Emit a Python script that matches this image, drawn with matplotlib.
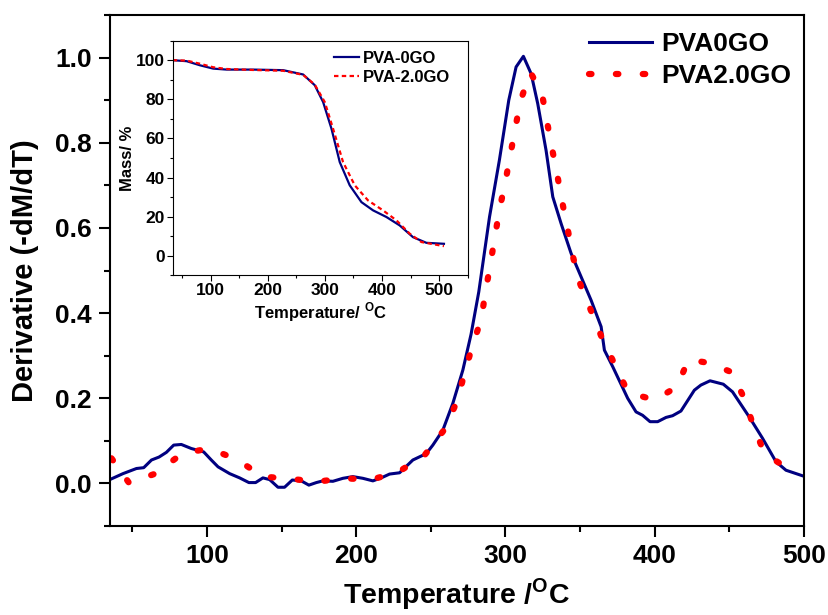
import matplotlib
matplotlib.use('Agg')
import matplotlib.pyplot as plt
from matplotlib.ticker import MultipleLocator

plt.rcParams['font.family'] = ['Liberation Sans', 'DejaVu Sans']
plt.rcParams['font.weight'] = 'bold'
plt.rcParams['axes.labelweight'] = 'bold'
plt.rcParams['mathtext.fontset'] = 'custom'
plt.rcParams['mathtext.rm'] = 'Liberation Sans:bold'
plt.rcParams['mathtext.bf'] = 'Liberation Sans:bold'

# DTG curves (main plot)
temp_0go = [35.5, 43.7, 52.7, 57.6, 62.8, 67.9, 72.8, 77.7, 82.8, 89.5, 97.8, 102.9, 107.4,
            115.2, 121.9, 128.1, 132.6, 137.5, 142, 147.6, 152, 157.2, 163.2, 168.3, 173.3,
            177.7, 184.4, 191.1, 197.8, 204.5, 211.2, 216.8, 222.4, 229.1, 238, 247, 251.4,
            258.1, 264.8, 271.5, 277, 282.2, 289.4, 296, 302.3, 307.2, 312.1, 317.3, 321.7,
            327.3, 331.8, 337.4, 344.1, 350.8, 357.5, 364.2, 366.4, 372, 382, 387.6, 392, 397,
            402.1, 407.7, 412.1, 417.7, 426.7, 431.1, 437.2, 446.1, 452.3, 463.5, 472.4, 481.4,
            488.1, 500]
dtg_0go = [0.010, 0.023, 0.035, 0.037, 0.055, 0.062, 0.073, 0.090, 0.0915, 0.082, 0.074, 0.055,
           0.039, 0.023, 0.013, 0.002, 0.002, 0.013, 0.009, -0.009, -0.009, 0.008, 0.006, -0.004,
           0.002, 0.006, 0.005, 0.012, 0.016, 0.012, 0.006, 0.013, 0.022, 0.025, 0.055, 0.070,
           0.090, 0.125, 0.188, 0.266, 0.35, 0.450, 0.626, 0.759, 0.900, 0.978, 1.003, 0.962,
           0.892, 0.782, 0.673, 0.610, 0.540, 0.485, 0.430, 0.368, 0.313, 0.274, 0.200, 0.168,
           0.160, 0.145, 0.145, 0.155, 0.159, 0.170, 0.219, 0.231, 0.241, 0.233, 0.215, 0.156,
           0.106, 0.051, 0.031, 0.017]

temp_2go = [36, 47.8, 65.4, 83.3, 101.4, 119.7, 137.5, 155.4, 173.7, 191.8, 210.1, 227.9, 245.8,
            259.7, 267.7, 272.6, 277.8, 283.8, 286.7, 289.8, 292.9, 296, 299.9, 303.2, 306.6,
            310.1, 316.8, 324.4, 327.7, 331.1, 334.7, 338, 341.8, 345.2, 350.1, 357.5, 364.6,
            373.5, 382.4, 400.3, 415, 422.8, 436.2, 451.2, 460.6, 466.4, 474, 489.6]
dtg_2go = [0.059, 0.001, 0.023, 0.070, 0.082, 0.057, 0.016, 0.011, 0.004, 0.012, 0.009, 0.026,
           0.066, 0.129, 0.194, 0.258, 0.322, 0.385, 0.450, 0.512, 0.577, 0.642, 0.706, 0.769,
           0.833, 0.898, 0.965, 0.918, 0.854, 0.790, 0.726, 0.663, 0.597, 0.534, 0.469, 0.405,
           0.343, 0.278, 0.213, 0.196, 0.227, 0.291, 0.283, 0.262, 0.197, 0.133, 0.069, 0.035]

# TGA curves (inset)
tga_temp_0go = [33.6, 58, 81.3, 104.5, 128, 174.5, 227, 261.9, 282.3, 296.9, 311.5, 326, 343.5,
                364, 384.3, 407.7, 430.9, 454.2, 477.6, 508.4]
tga_mass_0go = [100, 99.5, 97.4, 95.7, 95.2, 95.2, 94.9, 92.7, 87.2, 78.6, 65, 47.9, 36, 27.4,
                23.2, 19.8, 15.5, 9.5, 6.6, 6.1]
tga_temp_2go = [33.6, 58, 81.3, 104.5, 128, 174.5, 227, 261.9, 282.3, 299.8, 314.3, 331.8,
                352.3, 375.5, 401.7, 425.2, 448.4, 468.9, 508.4]
tga_mass_2go = [100, 99.8, 98.2, 96.4, 95.5, 95.0, 94.6, 92.5, 87.5, 78.6, 65, 47.9, 36, 28.3,
                23.2, 18.1, 11.3, 7, 4.9]

fig = plt.figure(figsize=(8.29, 6.15), dpi=100)
ax = fig.add_axes([0.1327, 0.1447, 0.8368, 0.8309])

ax.plot(temp_0go, dtg_0go, color='#000080', lw=2.2, label='PVA0GO')
ax.plot(temp_2go, dtg_2go, color='#ff0000', lw=4.5, linestyle=(0, (0.4, 3.9)),
        dash_capstyle='round', label='PVA2.0GO')

ax.set_xlim(35, 500)
ax.set_ylim(-0.1, 1.1)
ax.xaxis.set_major_locator(MultipleLocator(100))
ax.xaxis.set_minor_locator(MultipleLocator(50))
ax.yaxis.set_major_locator(MultipleLocator(0.2))
ax.yaxis.set_minor_locator(MultipleLocator(0.1))
ax.tick_params(which='major', direction='out', length=8, width=1.5, labelsize=19, pad=5)
ax.tick_params(which='minor', direction='out', length=4, width=1.5)
for s in ax.spines.values():
    s.set_linewidth(1.5)
ax.set_xlabel(r'Temperature /$^{\mathbf{O}}$C', fontsize=20.5, labelpad=6)
ax.set_ylabel('Derivative (-dM/dT)', fontsize=21, labelpad=12)
ax.legend(loc='upper left', bbox_to_anchor=(0.69, 0.967), frameon=False, fontsize=19,
          handlelength=2.4, handletextpad=0.35, labelspacing=0.3, borderpad=0, borderaxespad=0)

ins = fig.add_axes([0.2083, 0.5524, 0.3559, 0.3815])
ins.plot(tga_temp_0go, tga_mass_0go, color='#000080', lw=1.6, label='PVA-0GO')
ins.plot(tga_temp_2go, tga_mass_2go, color='#ff0000', lw=1.6, linestyle=(0, (2, 1.5)),
         label='PVA-2.0GO')
ins.set_xlim(33.6, 550)
ins.set_ylim(-10, 110)
ins.xaxis.set_major_locator(MultipleLocator(100))
ins.xaxis.set_minor_locator(MultipleLocator(50))
ins.yaxis.set_major_locator(MultipleLocator(20))
ins.yaxis.set_minor_locator(MultipleLocator(10))
ins.tick_params(which='major', direction='out', length=4, width=0.8, labelsize=12.5, pad=1.5)
ins.tick_params(which='minor', direction='out', length=2.5, width=0.8)
for s in ins.spines.values():
    s.set_linewidth(0.8)
ins.set_xlabel(r'Temperature/ $^{\mathbf{O}}$C', fontsize=12, labelpad=2)
ins.set_ylabel('Mass/ %', fontsize=12, labelpad=1)
ins.legend(loc='upper left', bbox_to_anchor=(0.548, 0.958), frameon=False, fontsize=12,
           handlelength=1.5, handletextpad=0.2, labelspacing=0.25, borderpad=0, borderaxespad=0)

fig.savefig('out.png', dpi=100)
